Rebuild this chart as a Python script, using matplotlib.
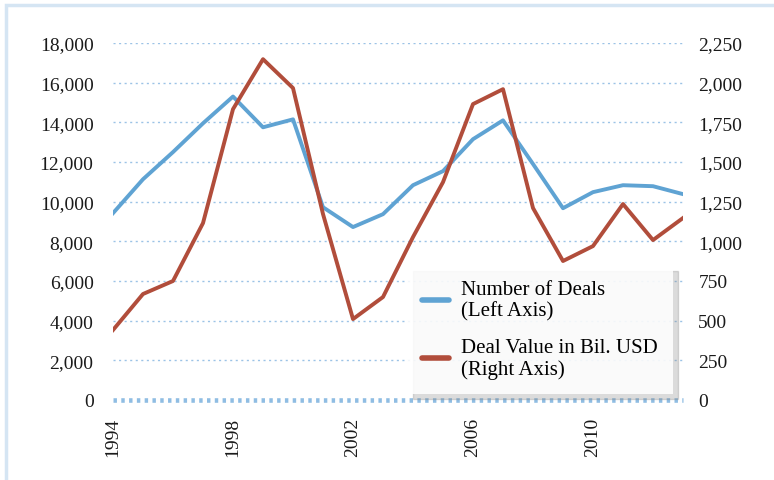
import matplotlib.pyplot as plt
from matplotlib.patches import Rectangle

# data
years = list(range(1994, 2014))
deals = [9420, 11130, 12500, 13950, 15300, 13750, 14150, 9720, 8720, 9370,
         10830, 11540, 13150, 14100, 11900, 9670, 10480, 10830, 10780, 10380]
value = [441, 668, 750, 1115, 1833, 2148, 1966, 1172, 510, 649,
         1027, 1373, 1865, 1959, 1210, 876, 970, 1235, 1008, 1147]

left_ticks = list(range(0, 18001, 2000))
right_ticks = list(range(0, 2251, 250))
x_ticks = [1994, 1998, 2002, 2006, 2010]

blue = '#5fa3d3'
red = '#b14d3b'
grid_col = '#9cc3e6'

plt.rcParams['font.family'] = ['Liberation Serif', 'DejaVu Serif']

fig = plt.figure(figsize=(7.74, 4.81), dpi=100)
fig.patches.append(Rectangle((6 / 774, -0.1), 1.2, 1.1 - 6 / 481, transform=fig.transFigure,
                             fill=False, edgecolor='#d5e5f3', linewidth=2.5))

ax1 = fig.add_axes([113 / 774, 1 - 401 / 481, 570 / 774, 357 / 481])
ax2 = ax1.twinx()

ax1.set_xlim(1994, 2013)
ax1.set_ylim(0, 18000)
ax2.set_ylim(0, 2250)

for y in left_ticks[1:]:
    ax1.axhline(y, color=grid_col, linestyle=(0, (1.5, 2.5)), linewidth=1, zorder=0)
ax1.axhline(0, color='#8fbde3', linestyle=(0, (0.75, 0.95)), linewidth=3.3, zorder=0, clip_on=False)

l1, = ax1.plot(years, deals, color=blue, linewidth=2.8, label='Number of Deals\n(Left Axis)')
l2, = ax2.plot(years, value, color=red, linewidth=2.8, label='Deal Value in Bil. USD\n(Right Axis)')

ax1.set_yticks(left_ticks)
ax1.set_yticklabels([f'{v:,}' for v in left_ticks])
ax2.set_yticks(right_ticks)
ax2.set_yticklabels([f'{v:,}' for v in right_ticks])
ax1.set_xticks(x_ticks)
ax1.set_xticklabels([str(x) for x in x_ticks], rotation=90)

for ax in (ax1, ax2):
    for s in ax.spines.values():
        s.set_visible(False)
    ax.tick_params(length=0, labelsize=14, colors='#1a1a1a')
ax1.tick_params(axis='y', pad=14)
ax1.tick_params(axis='x', pad=12)
ax2.tick_params(axis='y', pad=11)

leg = ax2.legend(handles=[l1, l2], loc='lower right', bbox_to_anchor=(1.0, -0.012),
                 fontsize=15, frameon=True, fancybox=False,
                 shadow={'ox': 4, 'oy': -4, 'color': '#888888', 'alpha': 0.3},
                 framealpha=0.88, facecolor='white', edgecolor='none', handlelength=1.3,
                 labelspacing=0.8, borderpad=0.7, handletextpad=0.6)
for h in leg.get_lines():
    h.set_linewidth(4)
    h.set_solid_capstyle('round')

fig.savefig('out.png', dpi=100)
